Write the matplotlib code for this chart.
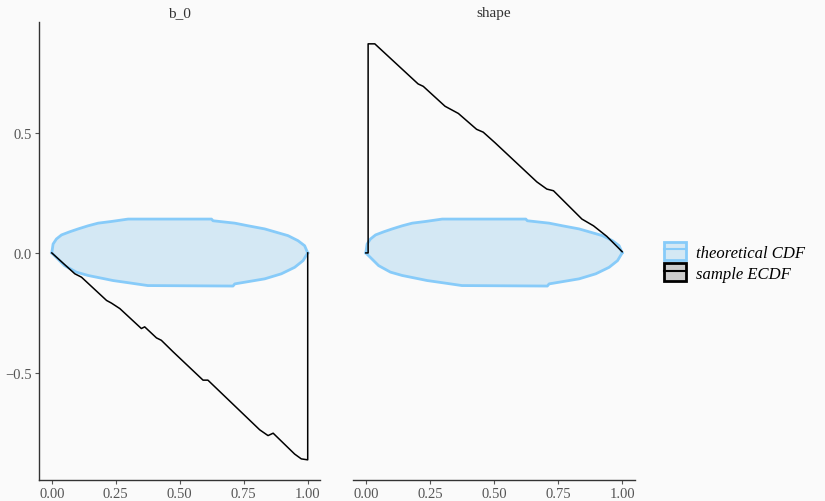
import matplotlib
matplotlib.use("Agg")
import matplotlib.pyplot as plt
from matplotlib.patches import Patch
from matplotlib.lines import Line2D

plt.rcParams['font.family'] = ['Liberation Serif', 'DejaVu Serif']

# facet titles
panels = ["b_0", "shape"]

# sample ECDF difference
z_b0 = [0, 0.09, 0.116, 0.214, 0.233, 0.266, 0.35, 0.363, 0.409, 0.428, 0.474,
        0.591, 0.61, 0.8125, 0.845, 0.865, 0.949, 0.975, 1.0, 1.0]
ecdf_b0 = [0, -0.087, -0.101, -0.198, -0.209, -0.232, -0.315, -0.308, -0.354,
           -0.364, -0.412, -0.53, -0.53, -0.737, -0.761, -0.751, -0.838, -0.858,
           -0.862, 0]

z_shape = [0, 0.009, 0.009, 0.035, 0.204, 0.224, 0.309, 0.361, 0.432, 0.458,
           0.504, 0.667, 0.706, 0.732, 0.843, 0.888, 0.94, 1.0]
ecdf_shape = [0, 0, 0.871, 0.871, 0.704, 0.694, 0.611, 0.581, 0.515, 0.503,
              0.459, 0.296, 0.266, 0.259, 0.141, 0.113, 0.069, 0.005]

# theoretical CDF band (same in both panels)
z_upper = [0, 0.005, 0.018, 0.038, 0.07, 0.103, 0.142, 0.181, 0.233, 0.298,
           0.624, 0.63, 0.715, 0.767, 0.832, 0.871, 0.923, 0.962, 0.988, 1.0]
band_upper = [0, 0.037, 0.058, 0.075, 0.088, 0.1, 0.113, 0.124, 0.131, 0.141,
              0.141, 0.134, 0.124, 0.113, 0.1, 0.088, 0.072, 0.051, 0.03, 0]
z_lower = [0, 0.05, 0.096, 0.142, 0.207, 0.239, 0.298, 0.375, 0.708, 0.715,
           0.832, 0.897, 0.949, 0.982, 1.0]
band_lower = [0, -0.053, -0.08, -0.094, -0.108, -0.115, -0.124, -0.136, -0.138,
              -0.129, -0.108, -0.087, -0.06, -0.032, 0]

x_ticks = [0, 0.25, 0.5, 0.75, 1.0]
x_labels = ["0.00", "0.25", "0.50", "0.75", "1.00"]
y_ticks = [-0.5, 0.0, 0.5]
y_labels = ["\u22120.5", "0.0", "0.5"]

fill_col = "#d4e8f4"
edge_col = "#87cbf9"
bg = "#fafafa"
axis_col = "#333333"
text_col = "#555555"

fig = plt.figure(figsize=(8.25, 5.02), dpi=100, facecolor=bg)
ax1 = fig.add_axes([39 / 825, 21 / 502, 281.5 / 825, 458 / 502])
ax2 = fig.add_axes([353 / 825, 21 / 502, 282 / 825, 458 / 502], sharey=ax1)

series = [(z_b0, ecdf_b0), (z_shape, ecdf_shape)]
for i, (ax, (zs, vals)) in enumerate(zip([ax1, ax2], series)):
    ax.set_facecolor(bg)
    poly_x = z_upper + z_lower[::-1]
    poly_y = band_upper + band_lower[::-1]
    ax.fill(poly_x, poly_y, color=fill_col, lw=0, zorder=1)
    ax.plot(z_upper, band_upper, color=edge_col, lw=2.0, zorder=2)
    ax.plot(z_lower, band_lower, color=edge_col, lw=2.0, zorder=2)
    ax.plot(zs, vals, color="black", lw=1.1, zorder=3)

    ax.set_xlim(-0.05, 1.05)
    ax.set_ylim(-0.946, 0.962)
    ax.set_xticks(x_ticks)
    ax.set_xticklabels(x_labels)
    ax.set_title(panels[i], fontsize=11, color=axis_col, pad=4.5)
    for s in ["top", "right"]:
        ax.spines[s].set_visible(False)
    ax.spines["bottom"].set_color(axis_col)
    ax.spines["left"].set_color(axis_col)
    ax.spines["bottom"].set_linewidth(1.0)
    ax.spines["left"].set_linewidth(1.0)
    ax.tick_params(colors=text_col, labelcolor=text_col, labelsize=10.5,
                   length=3, width=0.8, pad=2)

ax1.set_yticks(y_ticks)
ax1.set_yticklabels(y_labels)
ax2.spines["left"].set_visible(False)
ax2.tick_params(axis="y", left=False, labelleft=False)

h_theory = (Patch(facecolor=fill_col, edgecolor=edge_col, lw=2.0),
            Line2D([], [], color=edge_col, lw=1.5))
h_sample = (Patch(facecolor="#cccccc", edgecolor="black", lw=2.0),
            Line2D([], [], color="black", lw=1.5))
fig.legend([h_theory, h_sample], ["theoretical CDF", "sample ECDF"],
           loc="center left", bbox_to_anchor=(649 / 825, 1 - 263 / 502),
           frameon=False, prop={"style": "italic", "size": 12},
           handlelength=1.3, handleheight=1.3, labelspacing=0.15,
           handletextpad=0.6, labelcolor="black")

fig.savefig("out.png", dpi=100, facecolor=bg)
